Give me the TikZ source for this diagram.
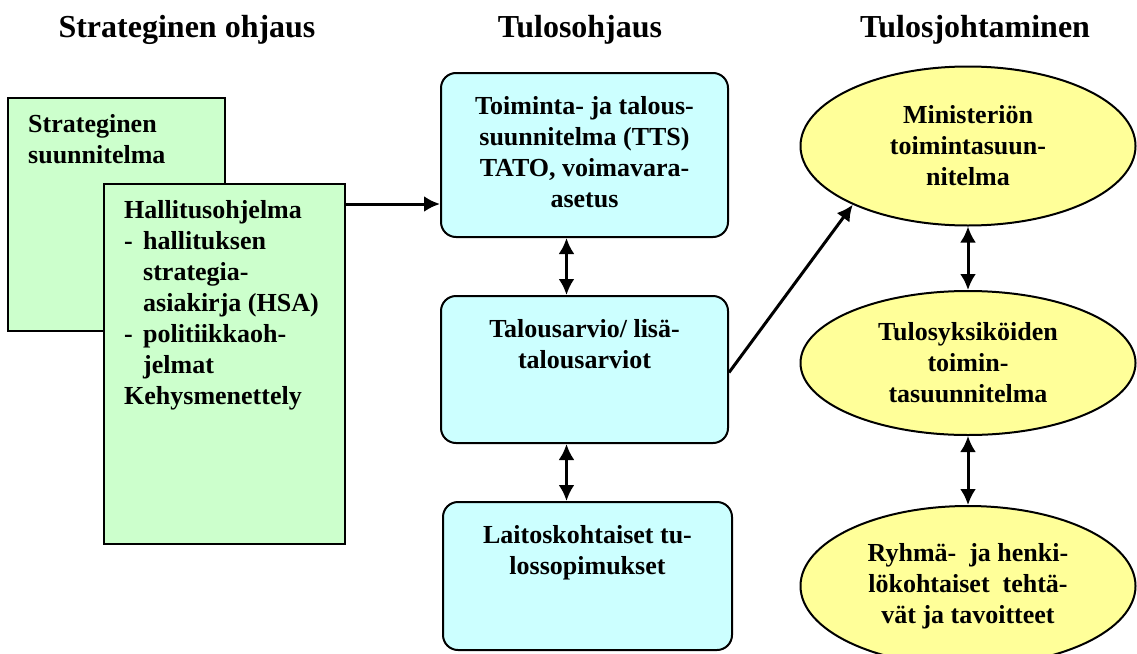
\documentclass[tikz,border=0pt]{standalone}
\usepackage{fontspec}
\setmainfont{Liberation Serif}
\usepackage{tikz}
\usetikzlibrary{arrows.meta,positioning,shapes}
\tikzset{>={Latex[length=16pt,width=16pt]}}

\definecolor{plangreen}{RGB}{204,255,204}
\definecolor{tuloscyan}{RGB}{204,255,255}
\definecolor{johtoyellow}{RGB}{255,255,153}

\tikzset{
  heading/.style={anchor=base,inner sep=0pt,font=\bfseries\fontsize{32}{38}\selectfont},
  boxtext/.style={inner sep=0pt,font=\bfseries\fontsize{26}{31}\selectfont},
  planbox/.style={draw,line width=2pt,fill=plangreen},
  tulosbox/.style={draw,line width=2pt,fill=tuloscyan,rounded corners=15pt},
  johtoell/.style={ellipse,draw,line width=2pt,fill=johtoyellow,inner sep=0pt,
    align=center,font=\bfseries\fontsize{26}{31}\selectfont}
}

\begin{document}
\begin{tikzpicture}[x=1pt,y=-1pt]
\useasboundingbox (0,0) rectangle (1137,653);

% headings
\node [heading] (h1) at (187,37) {Strateginen ohjaus};
\node [heading] (h2) at (580,37) {Tulosohjaus};
\node [heading] (h3) at (975,37) {Tulosjohtaminen};

% left column
\node [planbox,minimum width=217pt,minimum height=233pt] (strat) at (116.5,214.5) {};
\node [boxtext,align=left,below right=17pt and 21pt of strat.north west] (strattxt)
  {Strateginen\\suunnitelma};
\node [planbox,minimum width=241pt,minimum height=360pt] (hallitus) at (224.5,364) {};
\node [boxtext,align=left,below right=17pt and 21pt of hallitus.north west] (hallitustxt)
  {Hallitusohjelma\\
   \makebox[19pt][l]{-}hallituksen\\
   \hspace*{19pt}strategia-\\
   \hspace*{19pt}asiakirja (HSA)\\
   \makebox[19pt][l]{-}politiikkaoh-\\
   \hspace*{19pt}jelmat\\
   Kehysmenettely};

% middle column
\node [tulosbox,minimum width=287pt,minimum height=164pt] (tts) at (584.5,155) {};
\node [boxtext,align=center,below=24pt of tts.north] (ttstxt)
  {Toiminta- ja talous-\\suunnitelma (TTS)\\TATO, voimavara-\\asetus};
\node [tulosbox,minimum width=287pt,minimum height=147pt] (ta) at (584.5,369.5) {};
\node [boxtext,align=center,below=24pt of ta.north] (tatxt)
  {Talousarvio/ lisä-\\talousarviot};
\node [tulosbox,minimum width=289pt,minimum height=148pt] (laitos) at (587.5,576) {};
\node [boxtext,align=center,below=24pt of laitos.north] (laitostxt)
  {Laitoskohtaiset tu-\\lossopimukset};

% right column
\node [johtoell,minimum width=335pt,minimum height=159pt] (min) at (968,146)
  {Ministeriön\\toimintasuun-\\nitelma};
\node [johtoell,minimum width=335pt,minimum height=144pt] (yks) at (968,363)
  {Tulosyksiköiden\\toimin-\\tasuunnitelma};
\node [johtoell,minimum width=335pt,minimum height=160pt] (ryhma) at (968,586)
  {Ryhmä-\ \ ja henki-\\lökohtaiset\ \ tehtä-\\vät ja tavoitteet};

\begin{scope}[line width=3pt]
\draw[->] ([yshift=-21pt]hallitus.north east) -- ([yshift=-21pt]hallitus.north east -| tts.west);
\draw[<->] ([xshift=-18pt]tts.south) -- ([xshift=-18pt]ta.north);
\draw[<->] ([xshift=-18pt]ta.south) -- ([xshift=-18pt]ta.south |- laitos.north);
\draw[->] ([yshift=-3pt]ta.east) -- (min.207);
\draw[<->] (min.south) -- (yks.north);
\draw[<->] (yks.south) -- (ryhma.north);
\end{scope}

\end{tikzpicture}
\end{document}
